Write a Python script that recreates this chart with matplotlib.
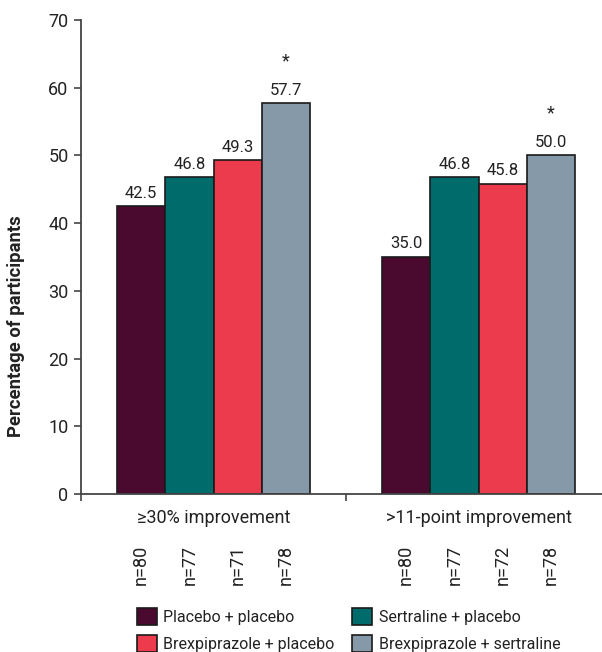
import matplotlib
matplotlib.use('Agg')
import matplotlib.pyplot as plt
import matplotlib.transforms as mtransforms
from matplotlib.patches import Patch

plt.rcParams['font.family'] = ['Roboto', 'DejaVu Sans']

# Daten
categories = ['≥30% improvement', '>11-point improvement']
groups = ['Placebo + placebo', 'Sertraline + placebo',
          'Brexpiprazole + placebo', 'Brexpiprazole + sertraline']
values = [
    [42.5, 46.8, 49.3, 57.7],
    [35.0, 46.8, 45.8, 50.0],
]
n_labels = [
    ['n=80', 'n=77', 'n=71', 'n=78'],
    ['n=80', 'n=77', 'n=72', 'n=78'],
]
significant = [
    [False, False, False, True],
    [False, False, False, True],
]
colors = ['#4a0a30', '#006b6b', '#ec3b4d', '#8699a8']

W, H = 602, 652
fig = plt.figure(figsize=(W / 100, H / 100), dpi=100)
ax = fig.add_axes([81 / W, 1 - 494 / H, (W - 81) / W, (494 - 20) / H])

bar_w = 0.182
centers = [0.5, 1.5]
for gi, c in enumerate(centers):
    for bi in range(4):
        x = c + (bi - 1.5) * bar_w
        v = values[gi][bi]
        ax.bar(x, v, width=bar_w, color=colors[bi], edgecolor='#1a1a1a',
               linewidth=1.2, zorder=2)
        ax.annotate(f'{v:.1f}', (x, v), xytext=(0, 4), textcoords='offset points',
                    ha='center', va='bottom', fontsize=12, color='#222222')
        if significant[gi][bi]:
            ax.annotate('*', (x, v), xytext=(0, 24), textcoords='offset points',
                        ha='center', va='bottom', fontsize=13, color='#222222')

ax.set_xlim(0, (W - 81) / 265)
ax.set_ylim(0, 70)
ax.set_yticks(range(0, 71, 10))
ax.set_xticks([0, 1])
ax.set_xticklabels([])
ax.tick_params(axis='y', labelsize=13, length=5, width=1.2, color='#444444',
               labelcolor='#222222', pad=4)
ax.tick_params(axis='x', length=5, width=1.2, color='#444444')
for s in ['top', 'right']:
    ax.spines[s].set_visible(False)
for s in ['left', 'bottom']:
    ax.spines[s].set_color('#444444')
    ax.spines[s].set_linewidth(1.3)

ax.set_ylabel('Percentage of participants', fontsize=13.3, fontweight='bold',
              color='#222222')
ax.yaxis.set_label_coords(25 / W, 0.5, transform=fig.transFigure)

# Kategorien und Fallzahlen unter der Achse
trans = mtransforms.blended_transform_factory(ax.transData, fig.transFigure)
for gi, c in enumerate(centers):
    ax.text(c, 1 - 518 / H, categories[gi], transform=trans, ha='center',
            va='center', fontsize=13, color='#222222')
    for bi in range(4):
        x = c + (bi - 1.5) * bar_w
        ax.text(x, 1 - 565 / H, n_labels[gi][bi], transform=trans, ha='center',
                va='center', rotation=90, fontsize=13, color='#222222')

# Legende
order = [0, 2, 1, 3]
handles = [Patch(facecolor=colors[i], edgecolor='#1a1a1a', linewidth=1.2) for i in order]
labels = [groups[i] for i in order]
fig.legend(handles, labels, loc='upper left', bbox_to_anchor=(137 / W, 1 - 608 / H),
           ncol=2, frameon=False, fontsize=11.5, handlelength=1.25, handleheight=1.25,
           handletextpad=0.4, columnspacing=1.1, labelspacing=0.65, borderpad=0,
           borderaxespad=0, labelcolor='#222222')

fig.savefig('out.png', dpi=100)
